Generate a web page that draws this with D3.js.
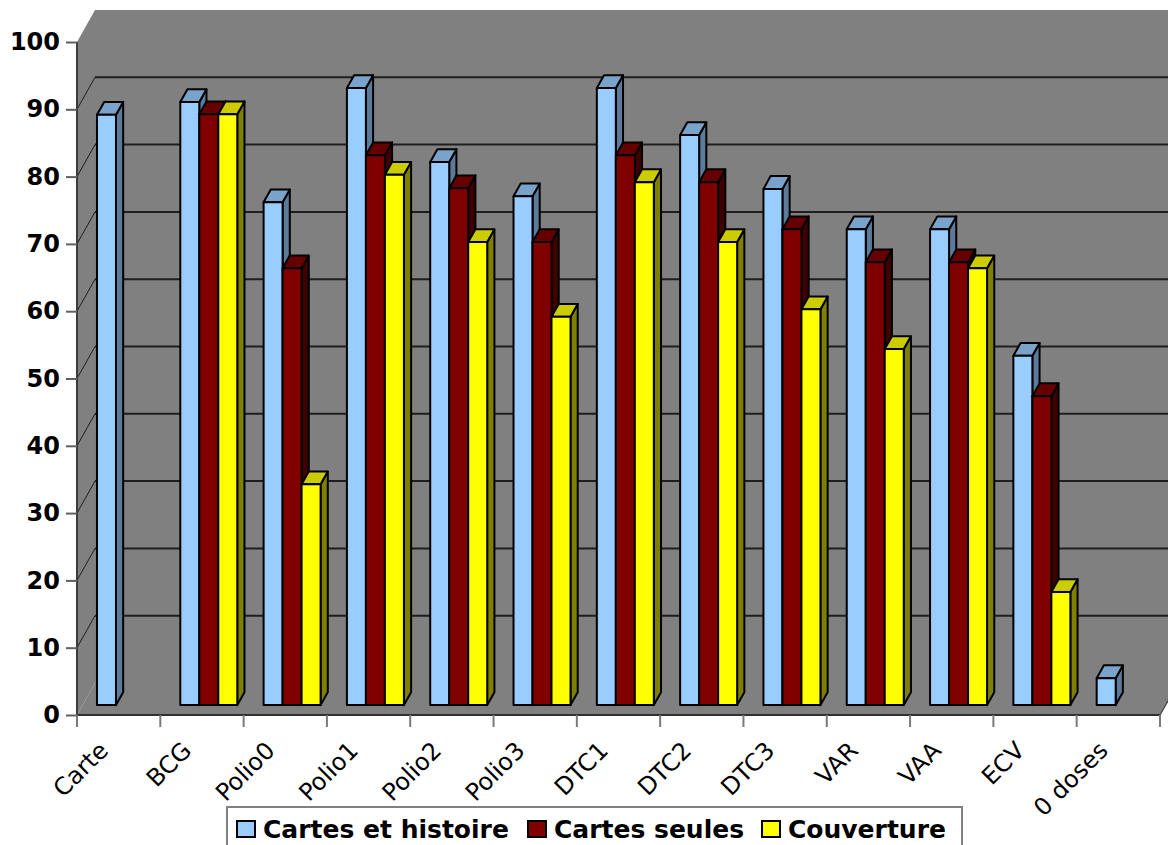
<!DOCTYPE html>
<html>
<head>
<meta charset="utf-8">
<script src="https://cdn.jsdelivr.net/npm/d3@7"></script>
<style>
  html, body { margin: 0; padding: 0; background: #fff; }
  svg { display: block; }
</style>
</head>
<body>
<svg id="chart" width="1168" height="845"></svg>
<script>
// Vaccination indicators (%) by antigen
const categories = ["Carte", "BCG", "Polio0", "Polio1", "Polio2", "Polio3",
                    "DTC1", "DTC2", "DTC3", "VAR", "VAA", "ECV", "0 doses"];
const seriesNames = ["Cartes et histoire", "Cartes seules", "Couverture"];
const cartesHistoire = [87.7, 89.6, 74.7, 91.7, 80.7, 75.6, 91.7, 84.7, 76.7, 70.7, 70.7, 51.9, 4.0];
const cartesSeules   = [null, 87.8, 64.9, 81.7, 76.8, 68.8, 81.7, 77.7, 70.7, 65.8, 65.8, 45.9, null];
const couverture     = [null, 87.8, 32.8, 78.8, 68.8, 57.7, 77.7, 68.8, 58.8, 52.9, 64.9, 16.8, null];
const yTicks = [0, 10, 20, 30, 40, 50, 60, 70, 80, 90, 100];

const seriesValues = [cartesHistoire, cartesSeules, couverture];
// front / top / side face fills per series
const faceColors = [
  { front: "#99ccff", top: "#7aa3cc", side: "#5c7a99" },
  { front: "#800000", top: "#660000", side: "#400000" },
  { front: "#ffff00", top: "#cccc00", side: "#808000" }
];

const W = 1168, H = 845;
const svg = d3.select("#chart");

// Oblique projection: depth fraction d in [0,1] shifts right and up
const depthVec = [18, -32];
const x = d3.scaleBand().domain(categories).range([77, 1160]).padding(0);
const y = d3.scaleLinear().domain([0, 100]).range([715, 42]);
const proj = (xf, v, d) => [xf + d * depthVec[0], y(v) + d * depthVec[1]];

const wallFill = "#808080";
const x0 = x.range()[0], x1 = x.range()[1];

// walls and floor
const plot = svg.append("g");
plot.append("polygon") // back wall
  .attr("points", [proj(x0, 100, 1), proj(W + 40, 100, 1), proj(W + 40, 0, 1), proj(x0, 0, 1)].join(" "))
  .attr("fill", wallFill);
plot.append("polygon") // side wall
  .attr("points", [proj(x0, 100, 0), proj(x0, 100, 1), proj(x0, 0, 1), proj(x0, 0, 0)].join(" "))
  .attr("fill", wallFill);
plot.append("polygon") // floor
  .attr("points", [proj(x0, 0, 0), proj(x1, 0, 0), proj(x1, 0, 1), proj(x0, 0, 1)].join(" "))
  .attr("fill", wallFill);

// gridlines on back wall and side wall
const gridVals = yTicks.filter(v => v > 0 && v < 100);
plot.selectAll("line.grid").data(gridVals).join("line")
  .attr("class", "grid")
  .attr("x1", v => proj(x0, v, 1)[0]).attr("y1", v => proj(x0, v, 1)[1])
  .attr("x2", W + 10).attr("y2", v => proj(x0, v, 1)[1])
  .attr("stroke", "#1e1e1e").attr("stroke-width", 2);
plot.selectAll("line.gridside").data(gridVals).join("line")
  .attr("class", "gridside")
  .attr("x1", v => proj(x0, v, 0)[0]).attr("y1", v => proj(x0, v, 0)[1])
  .attr("x2", v => proj(x0, v, 1)[0]).attr("y2", v => proj(x0, v, 1)[1])
  .attr("stroke", "#1e1e1e").attr("stroke-width", 1);

// floor edges
plot.append("line")
  .attr("x1", x0).attr("y1", y(0)).attr("x2", x1).attr("y2", y(0))
  .attr("stroke", "#303030").attr("stroke-width", 2);
plot.append("line")
  .attr("x1", x1).attr("y1", y(0))
  .attr("x2", proj(x1, 0, 1)[0]).attr("y2", proj(x1, 0, 1)[1])
  .attr("stroke", "#505050").attr("stroke-width", 1.5);

// value axis
const yAxis = svg.append("g").attr("transform", `translate(${x0},0)`)
  .call(d3.axisLeft(y).tickValues(yTicks).tickSize(11).tickPadding(6).tickFormat(d3.format("d")));
yAxis.select(".domain").attr("stroke", "#3c3c3c").attr("stroke-width", 2)
  .attr("d", `M0,${y(100)}V${y(0)}`);
yAxis.selectAll(".tick line").attr("stroke", "#606060").attr("stroke-width", 2);
yAxis.selectAll(".tick text")
  .attr("font-family", "DejaVu Sans, Verdana, sans-serif")
  .attr("font-weight", "bold").attr("font-size", 24).attr("fill", "#000");

// category axis ticks at band edges
const edges = categories.map(c => x(c)).concat([x1]);
svg.append("g").selectAll("line").data(edges).join("line")
  .attr("x1", d => d).attr("x2", d => d)
  .attr("y1", y(0)).attr("y2", y(0) + 12)
  .attr("stroke", "#7a7a7a").attr("stroke-width", 2);

// category labels, rotated
svg.append("g").selectAll("text").data(categories).join("text")
  .attr("transform", c => `translate(${x(c) + x.bandwidth() / 2 - 9},752) rotate(-45)`)
  .attr("text-anchor", "end")
  .attr("font-family", "DejaVu Sans, Verdana, sans-serif")
  .attr("font-size", 24).attr("fill", "#000")
  .text(c => c);

// 3D bars
const barW = 19, inset = 14.4, dFront = 0.31, dBack = 0.71;
const barsG = svg.append("g");
const bars = [];
categories.forEach((c, ci) => {
  seriesValues.forEach((vals, si) => {
    const v = vals[ci];
    if (v == null) return;
    bars.push({ c, si, v, xf: x(c) + inset + si * barW });
  });
});
const barG = barsG.selectAll("g.bar").data(bars).join("g").attr("class", "bar");
const pts = arr => arr.map(p => p.join(",")).join(" ");
barG.append("polygon") // side
  .attr("points", b => pts([proj(b.xf + barW, b.v, dFront), proj(b.xf + barW, b.v, dBack),
                            proj(b.xf + barW, 0, dBack), proj(b.xf + barW, 0, dFront)]))
  .attr("fill", b => faceColors[b.si].side);
barG.append("polygon") // top
  .attr("points", b => pts([proj(b.xf, b.v, dFront), proj(b.xf + barW, b.v, dFront),
                            proj(b.xf + barW, b.v, dBack), proj(b.xf, b.v, dBack)]))
  .attr("fill", b => faceColors[b.si].top);
barG.append("polygon") // front
  .attr("points", b => pts([proj(b.xf, b.v, dFront), proj(b.xf + barW, b.v, dFront),
                            proj(b.xf + barW, 0, dFront), proj(b.xf, 0, dFront)]))
  .attr("fill", b => faceColors[b.si].front);
barG.selectAll("polygon")
  .attr("stroke", "#000").attr("stroke-width", 2).attr("stroke-linejoin", "round");

// legend
const legend = svg.append("g");
legend.append("rect")
  .attr("x", 227).attr("y", 807).attr("width", 735).attr("height", 60)
  .attr("fill", "#fff").attr("stroke", "#808080").attr("stroke-width", 2);
const legendX = [237, 528, 762];
const item = legend.selectAll("g.item").data(seriesNames).join("g").attr("class", "item")
  .attr("transform", (d, i) => `translate(${legendX[i]},0)`);
item.append("rect")
  .attr("x", 0).attr("y", 821).attr("width", 18).attr("height", 16)
  .attr("fill", (d, i) => faceColors[i].front)
  .attr("stroke", "#000").attr("stroke-width", 2);
item.append("text")
  .attr("x", 26).attr("y", 838)
  .attr("font-family", "DejaVu Sans, Verdana, sans-serif")
  .attr("font-weight", "bold").attr("font-size", 25).attr("fill", "#000")
  .text(d => d);
</script>
</body>
</html>
